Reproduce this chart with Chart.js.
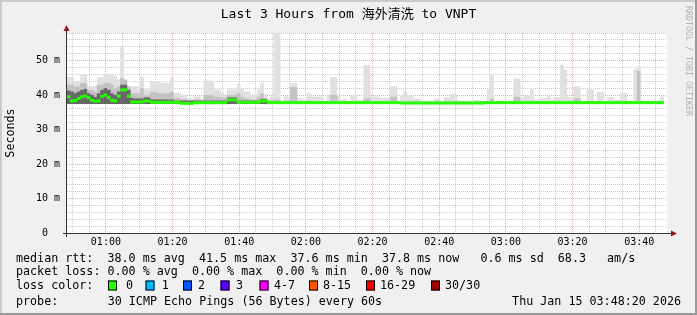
<!DOCTYPE html>
<html>
<head>
<meta charset="utf-8">
<script src="https://cdn.jsdelivr.net/npm/chart.js@4.4.1/dist/chart.umd.min.js"></script>
<style>
  html, body { margin: 0; padding: 0; background: #f0f0f0; }
  canvas { display: block; }
</style>
</head>
<body>
<canvas id="myChart" width="697" height="315"></canvas>
<script>
// smokeping: last 3 hours, one column per minute starting 00:48:20
const startMinute = 48 + 20 / 60;

const timeLabels = ['01:00', '01:20', '01:40', '02:00', '02:20', '02:40', '03:00', '03:20', '03:40'];
const yLabels = ['0  ', '10 m', '20 m', '30 m', '40 m', '50 m'];

// median rtt (ms), one value per minute
const median = [
  39.5, 38.3, 38.4, 39.0, 39.5, 39.7, 39.2, 38.5, 38.2, 38.3,
  39.6, 40.0, 39.3, 38.5, 38.3, 39.7, 41.5, 41.5, 39.7, 38.0,
  38.0, 38.0, 38.0, 38.3, 38.3, 37.9, 37.9, 37.9, 37.9, 37.9,
  37.9, 37.9, 37.9, 37.9, 37.6, 37.6, 37.6, 37.6, 37.8, 37.8,
  37.8, 37.8, 37.8, 37.8, 37.8, 37.8, 37.8, 37.8, 38.6, 38.6,
  38.6, 37.9, 37.9, 37.9, 37.9, 37.9, 37.9, 37.9, 38.3, 38.3,
  37.8, 37.8, 37.8, 37.8, 37.8, 37.8, 37.8, 37.8, 37.8, 37.8,
  37.8, 37.8, 37.8, 37.8, 37.8, 37.8, 37.8, 37.8, 37.8, 37.8,
  37.8, 37.8, 37.8, 37.8, 37.8, 37.8, 37.8, 37.8, 37.8, 37.8,
  37.8, 37.8, 37.8, 37.8, 37.8, 37.8, 37.8, 37.8, 37.8, 37.8,
  37.7, 37.7, 37.7, 37.7, 37.7, 37.7, 37.7, 37.7, 37.7, 37.7,
  37.7, 37.7, 37.7, 37.7, 37.7, 37.7, 37.7, 37.7, 37.7, 37.7,
  37.7, 37.7, 37.7, 37.7, 37.7, 37.8, 37.8, 37.8, 37.8, 37.8,
  37.8, 37.8, 37.8, 37.8, 37.8, 37.8, 37.8, 37.8, 37.8, 37.8,
  37.8, 37.8, 37.8, 37.8, 37.8, 37.8, 37.8, 37.8, 37.8, 37.8,
  37.8, 37.8, 37.8, 37.8, 37.8, 37.8, 37.8, 37.8, 37.8, 37.8,
  37.8, 37.8, 37.8, 37.8, 37.8, 37.8, 37.8, 37.8, 37.8, 37.8,
  37.8, 37.8, 37.8, 37.8, 37.8, 37.8, 37.8, 37.8, 37.8
];

// highest ping of each minute (top of the light smoke)
const smokeMax = [
  45.2, 45.2, 44.0, 44.0, 45.9, 45.9, 42.6, 42.6, 42.6, 45.2,
  45.2, 46.0, 46.0, 46.0, 45.5, 44.6, 54.1, 42.5, 42.5, 42.5,
  42.5, 42.5, 45.4, 41.6, 41.6, 44.0, 44.0, 44.0, 43.5, 43.5,
  43.5, 45.2, 40.6, 40.6, 40.1, 40.1, 39.1, 39.1, 39.6, 39.6,
  39.0, 44.2, 44.2, 44.2, 41.6, 41.6, 40.8, 40.3, 41.6, 41.6,
  41.6, 43.2, 41.9, 41.0, 41.0, 40.1, 40.1, 41.6, 43.6, 40.3,
  39.1, 39.6, 58.0, 58.0, 38.2, 39.6, 39.6, 43.5, 43.5, 39.1,
  38.9, 38.9, 40.7, 39.6, 39.6, 39.6, 39.6, 38.2, 40.2, 45.2,
  45.2, 40.2, 38.7, 38.9, 38.2, 40.1, 40.1, 38.7, 38.5, 48.7,
  48.7, 39.6, 39.6, 39.6, 39.1, 39.2, 39.2, 42.5, 42.5, 37.9,
  40.0, 40.9, 40.0, 40.0, 39.0, 39.0, 38.2, 38.2, 38.2, 38.2,
  39.0, 39.0, 38.2, 39.3, 39.3, 40.3, 40.3, 38.6, 38.1, 38.1,
  38.1, 38.1, 38.6, 38.6, 38.1, 38.1, 41.6, 45.9, 38.3, 38.3,
  38.3, 38.3, 38.3, 38.3, 44.8, 44.8, 39.1, 40.0, 40.0, 41.6,
  38.8, 38.6, 39.1, 39.1, 40.0, 38.6, 39.4, 39.4, 48.8, 47.4,
  39.4, 39.4, 42.5, 42.5, 37.9, 38.2, 41.6, 41.6, 38.2, 40.9,
  40.9, 38.2, 39.4, 39.4, 38.6, 38.6, 40.7, 40.7, 38.2, 38.2,
  47.5, 48.3, 38.4, 37.9, 37.9, 37.9, 38.4, 38.4, 39.6
];

// top of the medium grey smoke
const smokeMid = [
  43.0, 43.0, 42.5, 42.5, 43.5, 43.5, 41.5, 41.5, 41.0, 43.0,
  43.0, 43.5, 43.5, 43.0, 42.0, 42.5, 45.0, 44.5, 42.5, 40.5,
  40.5, 40.5, 42.0, 40.0, 40.0, 40.8, 40.8, 40.5, 40.5, 40.5,
  40.5, 41.0, 39.2, 39.2, 38.8, 38.8, 38.5, 38.5, 38.8, 38.8,
  38.5, 40.0, 40.0, 40.0, 39.5, 39.5, 39.3, 39.2, 40.0, 40.0,
  40.0, 40.5, 39.5, 39.0, 39.0, 38.6, 38.6, 39.5, 40.5, 39.0,
  38.4, 38.5, 38.8, 38.8, 38.1, 38.4, 38.4, 42.3, 42.3, 38.2,
  38.2, 38.2, 38.4, 38.2, 38.2, 38.2, 38.2, 38.2, 38.2, 40.0,
  40.0, 38.2, 38.2, 38.2, 38.2, 38.2, 38.2, 38.2, 38.2, 39.0,
  39.0, 38.2, 38.2, 38.2, 38.2, 38.2, 38.2, 39.5, 39.5, 38.2,
  38.2, 38.2, 38.2, 38.2, 38.2, 38.2, 38.2, 38.2, 38.2, 38.2,
  38.2, 38.2, 38.2, 38.2, 38.2, 38.2, 38.2, 38.2, 38.2, 38.2,
  38.2, 38.2, 38.2, 38.2, 38.2, 38.2, 38.2, 39.0, 38.2, 38.2,
  38.2, 38.2, 38.2, 38.2, 39.5, 39.5, 38.2, 38.2, 38.2, 38.2,
  38.2, 38.2, 38.2, 38.2, 38.2, 38.2, 38.2, 38.2, 38.2, 38.2,
  38.2, 38.2, 39.0, 39.0, 38.2, 38.2, 38.2, 38.2, 38.2, 38.2,
  38.2, 38.2, 38.2, 38.2, 38.2, 38.2, 38.2, 38.2, 38.2, 38.2,
  38.2, 47.0, 38.2, 38.2, 38.2, 38.2, 38.2, 38.2, 38.2
];

// dense dark core, only the first hour has one
const smokeDark = [
  41.3, 41.0, 40.5, 41.0, 41.5, 41.8, 40.5, 40.0, 39.5, 40.5,
  41.5, 42.0, 41.5, 40.5, 40.0, 41.0, 43.0, 43.0, 41.5, 39.2,
  39.0, 39.0, 39.0, 39.3, 39.3, 38.7, 38.7, 38.7, 38.7, 38.7,
  38.7, 38.7, 38.4, 38.4, 38.4, 38.4, 38.4, 38.4, 38.4, 38.4,
  38.4, 38.4, 38.4, 38.4, 38.4, 38.4, 38.4, 38.4, 39.3, 39.3,
  39.3, 38.4, 38.4, 38.4, 38.4, 38.4, 38.4, 38.4, 38.9, 38.9
];

const smokeFloor = 37.4;   // lowest ping seen
const medianHalf = 0.44;   // half height of the median band (ms)

const mono = "'DejaVu Sans Mono', 'Noto Sans CJK SC', monospace";

function col(i) { return startMinute + i + 0.5; }

const rrdPlugin = {
  id: 'rrd',
  beforeDraw(chart) {
    const c = chart.ctx, a = chart.chartArea;
    c.save();
    c.fillStyle = '#f0f0f0';
    c.fillRect(0, 0, chart.width, chart.height);
    c.fillStyle = '#cbcbcb';
    c.fillRect(0, 0, chart.width, 2);
    c.fillRect(0, 0, 2, chart.height);
    c.fillStyle = '#999999';
    c.fillRect(0, chart.height - 2, chart.width, 2);
    c.fillRect(chart.width - 2, 0, 2, chart.height);
    c.fillStyle = '#ffffff';
    c.fillRect(a.left, a.top, a.right - a.left, a.bottom - a.top);
    c.restore();
  },
  afterDraw(chart) {
    const c = chart.ctx, a = chart.chartArea;
    c.save();
    // axes
    c.strokeStyle = '#333333';
    c.lineWidth = 1;
    c.beginPath();
    c.moveTo(a.left - 4, a.bottom + 0.5);
    c.lineTo(a.right + 4, a.bottom + 0.5);
    c.moveTo(a.left - 0.5, a.bottom + 4);
    c.lineTo(a.left - 0.5, a.top - 3);
    c.stroke();
    c.fillStyle = '#8e1b1b';
    c.beginPath();
    c.moveTo(a.right + 10, a.bottom + 0.5);
    c.lineTo(a.right + 4, a.bottom - 2.5);
    c.lineTo(a.right + 4, a.bottom + 3.5);
    c.closePath();
    c.fill();
    c.beginPath();
    c.moveTo(a.left - 0.5, a.top - 8);
    c.lineTo(a.left - 3.5, a.top - 2);
    c.lineTo(a.left + 2.5, a.top - 2);
    c.closePath();
    c.fill();

    // title
    c.fillStyle = '#000';
    c.font = '13px ' + mono;
    c.textAlign = 'center';
    c.textBaseline = 'middle';
    c.fillText('Last 3 Hours from 海外清洗 to VNPT', 348.5, 15);

    // unit label
    c.save();
    c.font = '11.7px ' + mono;
    c.translate(11, 133);
    c.rotate(-Math.PI / 2);
    c.fillText('Seconds', 0, 0);
    c.restore();

    // watermark
    c.save();
    c.fillStyle = '#b4b4b4';
    c.font = '8.3px ' + mono;
    c.textAlign = 'left';
    c.translate(688, 6);
    c.rotate(Math.PI / 2);
    c.fillText('RRDTOOL / TOBI OETIKER', 0, 0);
    c.restore();

    // legend lines
    c.font = '11.7px ' + mono;
    c.textAlign = 'left';
    c.fillText('median rtt:  38.0 ms avg  41.5 ms max  37.6 ms min  37.8 ms now   0.6 ms sd  68.3   am/s', 16, 258.5);
    c.fillText('packet loss: 0.00 % avg  0.00 % max  0.00 % min  0.00 % now', 16, 272);
    c.fillText('loss color:', 16, 285.5);
    const lossColors = [
      ['#26ff00', '0', 108, 126], ['#00b8ff', '1', 145.5, 161.7], ['#0059ff', '2', 183, 198],
      ['#5e00ff', '3', 220.5, 236], ['#ff00ff', '4-7', 259.5, 274], ['#ff5500', '8-15', 309, 323],
      ['#ff0000', '16-29', 366, 380], ['#a00000', '30/30', 431, 445]
    ];
    lossColors.forEach(([clr, txt, bx, tx]) => {
      c.fillStyle = clr;
      c.fillRect(bx, 280.5, 9, 10);
      c.strokeStyle = '#000';
      c.strokeRect(bx + 0.5, 281, 8, 9);
      c.fillStyle = '#000';
      c.fillText(txt, tx, 285.5);
    });
    c.fillText('probe:', 16, 301.5);
    c.fillText('30 ICMP Echo Pings (56 Bytes) every 60s', 107.7, 301.5);
    c.textAlign = 'right';
    c.fillText('Thu Jan 15 03:48:20 2026', 681, 301.5);
    c.restore();
  }
};

const minorGrid = 'rgba(140,140,140,0.45)';
const majorGrid = 'rgba(230,110,110,0.6)';

new Chart(document.getElementById('myChart'), {
  type: 'bar',
  data: {
    datasets: [
      { // median, coloured by loss (0 -> green)
        data: median.map((v, i) => ({ x: col(i), y: [v - medianHalf, v + medianHalf] })),
        backgroundColor: '#26ff00'
      },
      {
        data: smokeDark.map((v, i) => ({ x: col(i), y: [smokeFloor, v] })),
        backgroundColor: '#666666'
      },
      {
        data: smokeMid.map((v, i) => ({ x: col(i), y: [smokeFloor, v] })),
        backgroundColor: '#c2c2c2'
      },
      {
        data: smokeMax.map((v, i) => ({ x: col(i), y: [smokeFloor, v] })),
        backgroundColor: '#e0e0e0'
      }
    ]
  },
  plugins: [rrdPlugin],
  options: {
    responsive: false,
    devicePixelRatio: 1,
    animation: false,
    events: [],
    layout: { padding: { left: 0, right: 30, top: 33, bottom: 0 } },
    datasets: {
      bar: { grouped: false, barPercentage: 1.1, categoryPercentage: 1, borderWidth: 0 }
    },
    scales: {
      x: {
        type: 'linear',
        min: startMinute,
        max: startMinute + 180,
        offset: false,
        afterBuildTicks(s) {
          const t = [];
          for (let v = 50; v <= 225; v += 5) t.push({ value: v });
          s.ticks = t;
        },
        afterFit(s) { s.height = 82; },
        ticks: {
          autoSkip: false, maxRotation: 0, minRotation: 0, padding: 3,
          color: '#000',
          font: { family: mono, size: 10 },
          callback(v) { return (v - 60) % 20 === 0 && v >= 60 ? timeLabels[(v - 60) / 20] : ''; }
        },
        grid: {
          drawTicks: false, offset: false, lineWidth: 1,
          color: (ctx) => ctx.tick && ctx.tick.value % 20 === 0 ? majorGrid : minorGrid
        },
        border: { display: false, dash: [1, 1] }
      },
      y: {
        type: 'linear',
        min: 0,
        max: 58,
        afterBuildTicks(s) {
          const t = [];
          for (let v = 0; v <= 58; v += 2) t.push({ value: v });
          s.ticks = t;
        },
        afterFit(s) { s.width = 67; },
        ticks: {
          autoSkip: false, padding: 7,
          color: '#000',
          font: { family: mono, size: 10 },
          callback(v) { return v % 10 === 0 ? yLabels[v / 10] : ''; }
        },
        grid: {
          drawTicks: false, lineWidth: 1,
          color: (ctx) => ctx.tick && ctx.tick.value % 10 === 0 ? majorGrid : minorGrid
        },
        border: { display: false, dash: [1, 1] }
      }
    },
    plugins: {
      legend: { display: false },
      tooltip: { enabled: false },
      title: { display: false }
    }
  }
});
</script>
</body>
</html>
